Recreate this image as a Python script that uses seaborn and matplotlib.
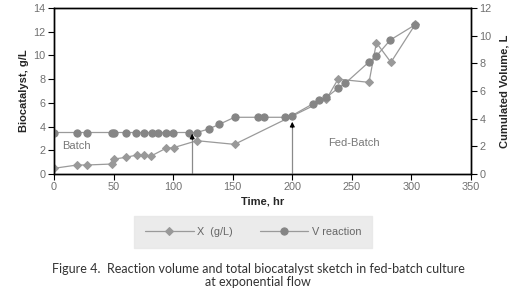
import matplotlib
matplotlib.use("Agg")
import matplotlib.pyplot as plt
import seaborn as sns
import pandas as pd
import numpy as np

# ---- data ----
time_x = [0, 19.5, 27.5, 48.5, 50.4, 60.5, 69.5, 75.9, 81.5, 94, 100.3, 120,
          151.5, 228.6, 238.4, 264.4, 270.6, 282.8, 303.4]
x_gl = [0.48, 0.76, 0.76, 0.84, 1.26, 1.41, 1.6, 1.6, 1.52, 2.17, 2.22, 2.81,
        2.5, 6.3, 8.0, 7.73, 11.07, 9.42, 12.65]

time_v = [0, 19, 27.5, 48.5, 50.4, 60.5, 68.9, 75.6, 82, 87.7, 93.9, 99.7,
          113.4, 119.9, 129.7, 138.7, 151.5, 171, 176, 193.5, 199.7, 217,
          222.7, 228.6, 238.4, 244.5, 264, 270.6, 282.3, 302.8]
v_reac = [3.0, 3.0, 3.0, 3.0, 3.0, 3.0, 3.0, 3.0, 3.0, 3.0, 3.0, 3.0,
          3.0, 3.0, 3.25, 3.59, 4.1, 4.1, 4.1, 4.1, 4.22, 5.06,
          5.35, 5.54, 6.2, 6.56, 8.07, 8.53, 9.69, 10.77]

arrow_times = [116, 200]
arrow_tops = [3.4, 4.4]   # in g/L (left axis units)

dfx = pd.DataFrame({"t": time_x, "X": x_gl})
dfv = pd.DataFrame({"t": time_v, "V": v_reac})

sns.set_style("white")
plt.rcParams["font.family"] = ["Liberation Sans", "DejaVu Sans"]

fig = plt.figure(figsize=(5.26, 2.93), dpi=100)
ax = fig.add_axes([54/526, 1 - 174/293, (471-54)/526, (174-8)/293])
ax2 = ax.twinx()

line_col = "#9a9a9a"
sns.lineplot(data=dfx, x="t", y="X", ax=ax, sort=False, color=line_col,
             marker="D", markersize=4.3, markerfacecolor="#999999",
             markeredgecolor="#999999", linewidth=0.9, label="X  (g/L)", legend=False)
sns.lineplot(data=dfv, x="t", y="V", ax=ax2, sort=False, color=line_col,
             marker="o", markersize=5.2, markerfacecolor="#858585",
             markeredgecolor="#858585", linewidth=0.9, label="V reaction", legend=False)

ax.set_xlim(0, 350)
ax.set_ylim(0, 14)
ax2.set_ylim(0, 12)
ax.set_xticks(np.arange(0, 351, 50))
ax.set_yticks(np.arange(0, 15, 2))
ax2.set_yticks(np.arange(0, 13, 2))

tick_col = "#707070"
for a in (ax, ax2):
    a.tick_params(axis="both", direction="out", length=4, width=0.8,
                  color="black", labelsize=7.8, labelcolor=tick_col, pad=2)
    for s in a.spines.values():
        s.set_color("black")
        s.set_linewidth(1.0)
ax.tick_params(axis="x", bottom=True)
ax.tick_params(axis="y", left=True)
ax2.tick_params(axis="y", right=True)

ax.set_xlabel("Time, hr", fontsize=8, fontweight="bold", labelpad=3)
ax.set_ylabel("Biocatalyst, g/L", fontsize=8, fontweight="bold", labelpad=3)
ax2.set_ylabel("Cumulated Volume, L", fontsize=8, fontweight="bold", labelpad=6)

# arrows (drawn on the top axes so they sit above the markers)
scale = 12 / 14
for t, top in zip(arrow_times, arrow_tops):
    ax2.plot([t, t], [0, (top - 0.3) * scale], color="#8a8a8a", linewidth=0.9, zorder=1)
    ax2.annotate("", xy=(t, top * scale), xytext=(t, (top - 0.5) * scale),
                 arrowprops=dict(arrowstyle="-|>", color="black", lw=0.8,
                                 mutation_scale=7, shrinkA=0, shrinkB=0), zorder=5)

ax.text(6.5, 2.4, "Batch", fontsize=8, color="#777777", va="center", ha="left")
ax.text(252, 2.65, "Fed-Batch", fontsize=8, color="#777777", va="center", ha="center")

h1, l1 = ax.get_legend_handles_labels()
h2, l2 = ax2.get_legend_handles_labels()
leg = fig.legend(h1 + h2, l1 + l2, loc="center", bbox_to_anchor=(253/526, 1 - 232/293),
                 ncol=2, frameon=True, fontsize=7.8, handlelength=4.5,
                 columnspacing=2.5, borderpad=1.0, handletextpad=0.3)
leg.get_frame().set_facecolor("#e6e6e6")
leg.get_frame().set_edgecolor("#e6e6e6")
leg.get_frame().set_boxstyle("square", pad=0)
for t in leg.get_texts():
    t.set_color("#666666")

fig.text(258/526, 1 - 269/293,
         "Figure 4.  Reaction volume and total biocatalyst sketch in fed-batch culture",
         fontsize=9.0, ha="center", va="center", color="#333333", family=["Lato", "DejaVu Sans"])
fig.text(258/526, 1 - 282/293, "at exponential flow",
         fontsize=9.0, ha="center", va="center", color="#333333", family=["Lato", "DejaVu Sans"])

fig.savefig("out.png", dpi=100)
